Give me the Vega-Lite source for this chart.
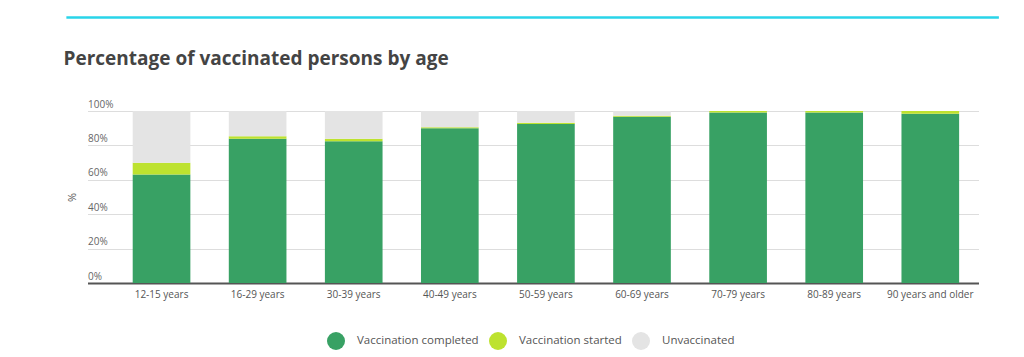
{
  "$schema": "https://vega.github.io/schema/vega-lite/v6.json",
  "background": "white",
  "padding": {"left": 63, "top": 14, "right": 0, "bottom": 0},
  "center": true,
  "spacing": 29,
  "config": {"legend": {"layout": {"bottom": {"anchor": "middle"}}}},
  "data": {
    "values": [
      {"age": "12-15 years", "status": "Vaccination completed", "k": 1, "pct": 63.1},
      {"age": "12-15 years", "status": "Vaccination started", "k": 2, "pct": 6.8},
      {"age": "12-15 years", "status": "Unvaccinated", "k": 3, "pct": 30.1},
      {"age": "16-29 years", "status": "Vaccination completed", "k": 1, "pct": 83.9},
      {"age": "16-29 years", "status": "Vaccination started", "k": 2, "pct": 1.4},
      {"age": "16-29 years", "status": "Unvaccinated", "k": 3, "pct": 14.7},
      {"age": "30-39 years", "status": "Vaccination completed", "k": 1, "pct": 82.4},
      {"age": "30-39 years", "status": "Vaccination started", "k": 2, "pct": 1.5},
      {"age": "30-39 years", "status": "Unvaccinated", "k": 3, "pct": 16.1},
      {"age": "40-49 years", "status": "Vaccination completed", "k": 1, "pct": 89.9},
      {"age": "40-49 years", "status": "Vaccination started", "k": 2, "pct": 0.6},
      {"age": "40-49 years", "status": "Unvaccinated", "k": 3, "pct": 9.5},
      {"age": "50-59 years", "status": "Vaccination completed", "k": 1, "pct": 92.4},
      {"age": "50-59 years", "status": "Vaccination started", "k": 2, "pct": 0.8},
      {"age": "50-59 years", "status": "Unvaccinated", "k": 3, "pct": 6.8},
      {"age": "60-69 years", "status": "Vaccination completed", "k": 1, "pct": 96.7},
      {"age": "60-69 years", "status": "Vaccination started", "k": 2, "pct": 0.6},
      {"age": "60-69 years", "status": "Unvaccinated", "k": 3, "pct": 2.7},
      {"age": "70-79 years", "status": "Vaccination completed", "k": 1, "pct": 99.2},
      {"age": "70-79 years", "status": "Vaccination started", "k": 2, "pct": 0.8},
      {"age": "70-79 years", "status": "Unvaccinated", "k": 3, "pct": 0},
      {"age": "80-89 years", "status": "Vaccination completed", "k": 1, "pct": 99.2},
      {"age": "80-89 years", "status": "Vaccination started", "k": 2, "pct": 0.8},
      {"age": "80-89 years", "status": "Unvaccinated", "k": 3, "pct": 0},
      {"age": "90 years and older", "status": "Vaccination completed", "k": 1, "pct": 98.4},
      {"age": "90 years and older", "status": "Vaccination started", "k": 2, "pct": 1.6},
      {"age": "90 years and older", "status": "Unvaccinated", "k": 3, "pct": 0}
    ]
  },
  "vconcat": [
    {
      "width": 931,
      "height": 1,
      "mark": {"type": "point", "opacity": 0},
      "encoding": {},
      "view": {"stroke": "#29d4e9", "strokeWidth": 1.5, "fill": "#29d4e9"}
    },
    {
      "title": {
        "text": "Percentage of vaccinated persons by age",
        "anchor": "start",
        "frame": "group",
        "dx": -24,
        "font": "Open Sans",
        "fontSize": 19,
        "fontWeight": "bold",
        "color": "#444444",
        "offset": 30
      },
      "width": 891,
      "height": 172,
      "view": {"stroke": null},
      "mark": {"type": "bar"},
      "encoding": {
        "x": {
          "field": "age",
          "type": "nominal",
          "sort": null,
          "scale": {"paddingInner": 0.4, "paddingOuter": 0.336, "align": 0.7},
          "axis": {
            "title": null,
            "labelAngle": 0,
            "ticks": false,
            "domainColor": "#555555",
            "domainWidth": 2,
            "labelColor": "#555555",
            "labelFont": "Open Sans",
            "labelFontSize": 10,
            "labelPadding": 6,
            "grid": false
          }
        },
        "y": {
          "field": "pct",
          "type": "quantitative",
          "stack": "zero",
          "scale": {"domain": [0, 100], "nice": false},
          "axis": {
            "title": "%",
            "titleFont": "Open Sans",
            "titleFontSize": 11,
            "titleFontWeight": "normal",
            "titleColor": "#555555",
            "titlePadding": 10,
            "values": [0, 20, 40, 60, 80, 100],
            "labelExpr": "datum.value + '%'",
            "labelAlign": "left",
            "labelBaseline": "bottom",
            "labelPadding": 0,
            "labelOffset": -2,
            "labelColor": "#666666",
            "labelFont": "Open Sans",
            "labelFontSize": 10,
            "ticks": false,
            "domain": false,
            "gridColor": "#dddddd",
            "gridWidth": 1
          }
        },
        "color": {
          "field": "status",
          "type": "nominal",
          "sort": ["Vaccination completed", "Vaccination started", "Unvaccinated"],
          "scale": {
            "domain": ["Vaccination completed", "Vaccination started", "Unvaccinated"],
            "range": ["#38a164", "#bde22f", "#e4e4e4"]
          },
          "legend": {
            "title": null,
            "orient": "bottom",
            "direction": "horizontal",
            "symbolType": "circle",
            "symbolSize": 324,
            "symbolStrokeWidth": 0,
            "labelFont": "Open Sans",
            "labelFontSize": 11.5,
            "labelColor": "#555555",
            "labelOffset": 12,
            "columnPadding": 10,
            "offset": 33
          }
        },
        "order": {"field": "k", "type": "quantitative", "sort": "ascending"}
      }
    }
  ]
}
